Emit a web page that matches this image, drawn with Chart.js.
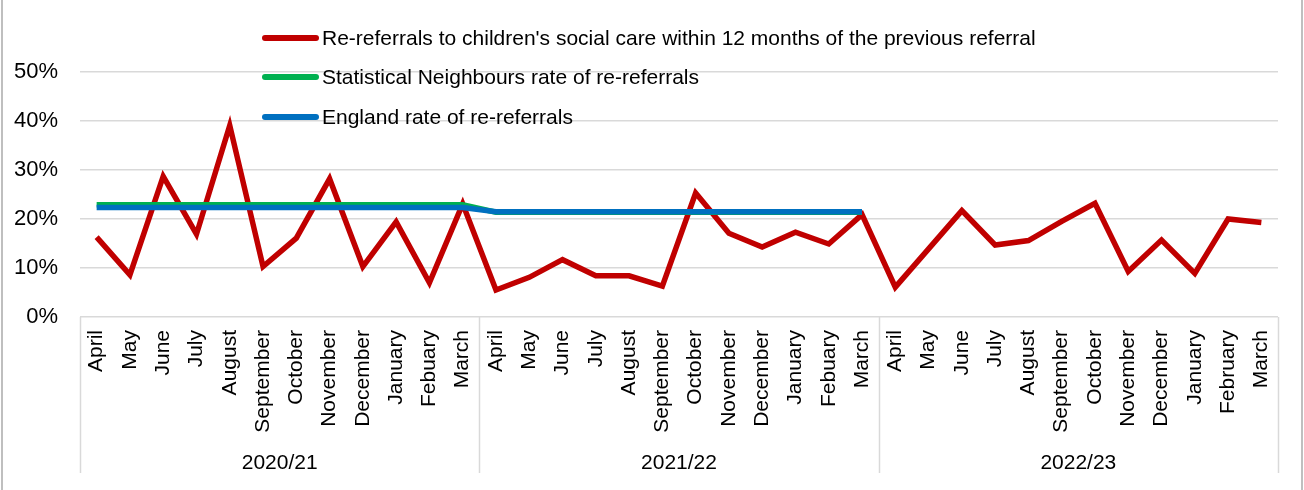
<!DOCTYPE html>
<html>
<head>
<meta charset="utf-8">
<script src="https://cdn.jsdelivr.net/npm/chart.js@4"></script>
<style>
  html, body { margin: 0; padding: 0; background: #fff; }
  #wrap { width: 1304px; height: 490px; position: relative; }
</style>
</head>
<body>
<div id="wrap"><canvas id="chart"></canvas></div>
<script>
const years = ["2020/21", "2021/22", "2022/23"];
const months20 = ["April", "May", "June", "July", "August", "September", "October", "November", "December", "January", "Febuary", "March"];
const months21 = ["April", "May", "June", "July", "August", "September", "October", "November", "December", "January", "Febuary", "March"];
const months22 = ["April", "May", "June", "July", "August", "September", "October", "November", "December", "January", "February", "March"];
const monthLabels = months20.concat(months21, months22);

const reReferrals = [
  16.3, 8.6, 28.7, 16.9, 39.1, 10.3, 16.1, 28.2, 10.3, 19.4, 7.0, 23.1,
  5.5, 8.1, 11.7, 8.4, 8.4, 6.3, 25.3, 17.1, 14.3, 17.3, 14.9, 20.9,
  6.1, 13.9, 21.7, 14.7, 15.6, 19.5, 23.2, 9.3, 15.7, 8.9, 20.0, 19.3
];
const statNeighbours = [
  22.9, 22.9, 22.9, 22.9, 22.9, 22.9, 22.9, 22.9, 22.9, 22.9, 22.9, 22.9,
  21.4, 21.4, 21.4, 21.4, 21.4, 21.4, 21.4, 21.4, 21.4, 21.4, 21.4, 21.4,
  null, null, null, null, null, null, null, null, null, null, null, null
];
const england = [
  22.35, 22.35, 22.35, 22.35, 22.35, 22.35, 22.35, 22.35, 22.35, 22.35, 22.35, 22.35,
  21.5, 21.5, 21.5, 21.5, 21.5, 21.5, 21.5, 21.5, 21.5, 21.5, 21.5, 21.5,
  null, null, null, null, null, null, null, null, null, null, null, null
];

const FONT = "'Liberation Sans', Arial, sans-serif";

// legend + year groups + frame drawn by hand
const extras = {
  id: "extras",
  afterDraw(chart) {
    const ctx = chart.ctx;
    const area = chart.chartArea;
    const x = chart.scales.x;
    const step = (x.right - x.left) / monthLabels.length;

    ctx.save();
    // year separators
    ctx.strokeStyle = "#d9d9d9";
    ctx.lineWidth = 1.5;
    for (let g = 0; g <= years.length; g++) {
      const px = Math.round(x.left + step * 12 * g) + 0.5;
      ctx.beginPath();
      ctx.moveTo(px, area.bottom);
      ctx.lineTo(px, area.bottom + 156);
      ctx.stroke();
    }
    // year labels
    ctx.fillStyle = "#000";
    ctx.font = "21px " + FONT;
    ctx.textAlign = "center";
    ctx.textBaseline = "middle";
    years.forEach((y, g) => {
      ctx.fillText(y, x.left + step * (12 * g + 6), area.bottom + 146);
    });

    // legend
    const rows = [38, 77, 117];
    chart.data.datasets.forEach((ds, i) => {
      ctx.strokeStyle = ds.borderColor;
      ctx.lineWidth = 6;
      ctx.lineCap = "round";
      ctx.beginPath();
      ctx.moveTo(265, rows[i]);
      ctx.lineTo(316, rows[i]);
      ctx.stroke();
      ctx.fillStyle = "#000";
      ctx.textAlign = "left";
      ctx.fillText(ds.label, 322, rows[i] + 1);
    });

    // frame edges
    ctx.strokeStyle = "#bfbfbf";
    ctx.lineWidth = 2;
    ctx.lineCap = "butt";
    ctx.beginPath();
    ctx.moveTo(2, 0); ctx.lineTo(2, chart.height);
    ctx.moveTo(chart.width - 2, 0); ctx.lineTo(chart.width - 2, chart.height);
    ctx.stroke();
    ctx.restore();
  }
};

new Chart(document.getElementById("chart"), {
  type: "line",
  data: {
    labels: monthLabels,
    datasets: [
      {
        label: "Re-referrals to children's social care within 12 months of the previous referral",
        data: reReferrals,
        borderColor: "#c00000",
        borderWidth: 5.5,
        pointRadius: 0,
        borderJoinStyle: "miter",
        order: 3
      },
      {
        label: "Statistical Neighbours rate of re-referrals",
        data: statNeighbours,
        borderColor: "#00b050",
        borderWidth: 5.5,
        pointRadius: 0,
        order: 2
      },
      {
        label: "England rate of re-referrals",
        data: england,
        borderColor: "#0070c0",
        borderWidth: 5.5,
        pointRadius: 0,
        order: 1
      }
    ]
  },
  options: {
    responsive: true,
    maintainAspectRatio: false,
    animation: false,
    layout: { padding: { top: 72, right: 26, left: 0, bottom: 0 } },
    plugins: {
      legend: { display: false },
      tooltip: { enabled: false }
    },
    scales: {
      y: {
        min: 0,
        max: 50,
        afterFit(scale) { scale.width = 80; },
        ticks: {
          stepSize: 10,
          padding: 22,
          color: "#000",
          font: { family: FONT, size: 22 },
          callback: v => v + "%"
        },
        grid: { color: "#d9d9d9", lineWidth: 1.5, drawTicks: false },
        border: { display: false }
      },
      x: {
        offset: true,
        afterFit(scale) { scale.height = 173; },
        ticks: {
          autoSkip: false,
          minRotation: 90,
          maxRotation: 90,
          padding: 5,
          color: "#000",
          font: { family: FONT, size: 21 }
        },
        grid: { display: false, offset: true },
        border: { display: false }
      }
    }
  },
  plugins: [extras]
});
</script>
</body>
</html>
